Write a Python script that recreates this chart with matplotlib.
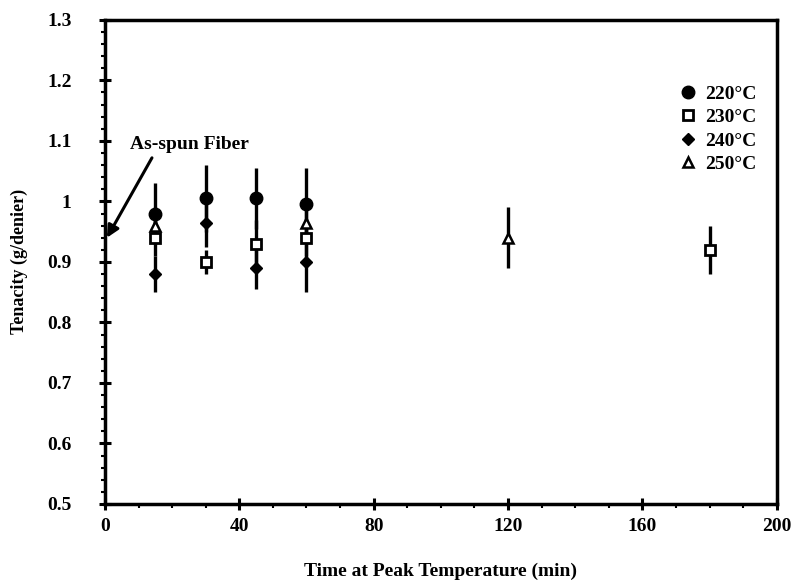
import numpy as np
import matplotlib.pyplot as plt
from matplotlib.ticker import MultipleLocator

plt.rcParams['font.family'] = ['Liberation Serif', 'DejaVu Serif']
plt.rcParams['font.weight'] = 'bold'

# tenacity (g/denier) vs. time held at peak temperature (min)
t220 = [15, 30, 45, 60]
y220 = [0.98, 1.005, 1.005, 0.995]
e220 = [0.05, 0.055, 0.05, 0.06]

t230 = [15, 30, 45, 60, 180]
y230 = [0.94, 0.90, 0.93, 0.94, 0.92]
e230 = [0.03, 0.02, 0.04, 0.03, 0.04]

t240 = [15, 30, 45, 60]
y240 = [0.88, 0.965, 0.89, 0.90]
e240 = [0.03, 0.04, 0.035, 0.05]

t250 = [15, 60, 120]
y250 = [0.96, 0.965, 0.94]
e250 = [0.03, 0.03, 0.05]

as_spun = (0.6, 0.94)

fig = plt.figure(figsize=(7.95, 5.84), dpi=100)
ax = fig.add_axes([0.132, 0.137, 0.845, 0.829])

ekw = dict(fmt='none', ecolor='black', elinewidth=2.4, capsize=0)
ax.errorbar(t220, y220, yerr=e220, **ekw)
ax.errorbar(t230, y230, yerr=e230, **ekw)
ax.errorbar(t240, y240, yerr=e240, **ekw)
ax.errorbar(t250, y250, yerr=e250, **ekw)

ax.plot(t220, y220, 'o', color='black', ms=9, ls='none', label='220°C')
ax.plot(t230, y230, 's', mfc='white', mec='black', mew=2, ms=7.5, ls='none', label='230°C')
ax.plot(t240, y240, 'D', color='black', ms=6, ls='none', label='240°C')
ax.plot(t250, y250, '^', mfc='white', mec='black', mew=1.8, ms=7.5, ls='none', label='250°C')

# label and arrow for the as-spun fiber value
ax.text(7.5, 1.08, 'As-spun Fiber', fontsize=14, fontweight='bold', ha='left', va='bottom')
ax.annotate('', xy=as_spun, xytext=(14, 1.072), annotation_clip=False,
            arrowprops=dict(arrowstyle='-|>', color='black', lw=2.2,
                            mutation_scale=18, shrinkA=0, shrinkB=0),
            zorder=5)

ax.set_xlim(0, 200)
ax.set_ylim(0.5, 1.3)
ax.xaxis.set_major_locator(MultipleLocator(40))
ax.xaxis.set_minor_locator(MultipleLocator(10))
ax.yaxis.set_minor_locator(MultipleLocator(0.02))
ax.set_yticks(np.arange(0.5, 1.31, 0.1))
ax.set_yticklabels(['0.5', '0.6', '0.7', '0.8', '0.9', '1', '1.1', '1.2', '1.3'])

for s in ax.spines.values():
    s.set_linewidth(2.5)
ax.tick_params(which='major', direction='inout', length=8, width=2.2,
               labelsize=14)
ax.tick_params(axis='y', which='major', pad=20)
ax.tick_params(axis='x', which='major', pad=6)
ax.tick_params(which='minor', direction='out', length=3, width=1.5)
for lbl in ax.get_xticklabels() + ax.get_yticklabels():
    lbl.set_fontweight('bold')

ax.set_xlabel('Time at Peak Temperature (min)', fontsize=14, fontweight='bold', labelpad=20)
ax.set_ylabel('Tenacity (g/denier)', fontsize=13, fontweight='bold', labelpad=14)

leg = ax.legend(loc='upper left', bbox_to_anchor=(0.842, 0.881), frameon=False,
                fontsize=14, handletextpad=0.4, labelspacing=0.3,
                handlelength=1.0, borderaxespad=0)

fig.savefig('out.png', dpi=100)
